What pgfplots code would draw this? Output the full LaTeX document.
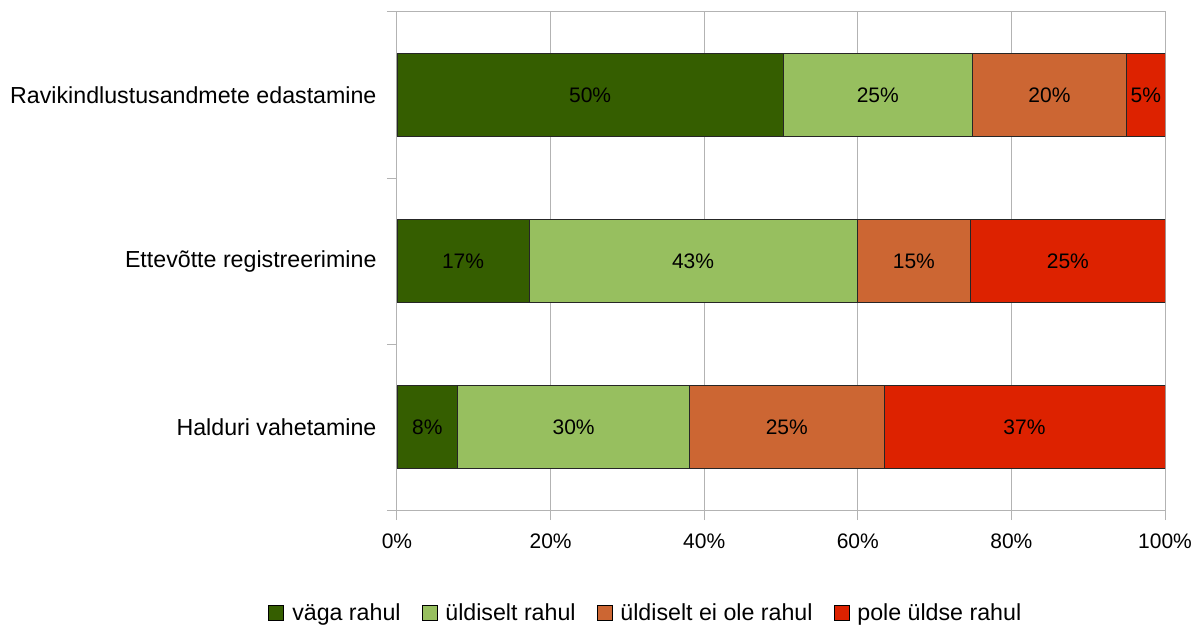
\documentclass[border=0pt]{standalone}
\usepackage{pgfplots}
\pgfplotsset{compat=1.18}
\usepackage{fontspec}
\setmainfont{Liberation Sans}
\definecolor{c1}{RGB}{53,94,0}
\definecolor{c2}{RGB}{151,191,95}
\definecolor{c3}{RGB}{204,102,51}
\definecolor{c4}{RGB}{221,34,0}
\definecolor{gridc}{RGB}{179,179,179}
\newcommand{\cf}{\fontsize{21}{25}\selectfont}
\newcommand{\lf}{\fontsize{23.2}{27}\selectfont}

\pgfplotstableread{
y v1 v2 v3 v4
3 50.3 24.6 20.1 5.0
2 17.2 42.7 14.8 25.3
1 7.9 30.2 25.3 36.6
}\datatab

\pgfplotstableread{
x y lbl
25.15 3 50
62.6 3 25
84.95 3 20
97.5 3 5
8.6 2 17
38.55 2 43
67.3 2 15
87.35 2 25
3.95 1 8
23.0 1 30
50.75 1 25
81.7 1 37
}\labtab

\begin{document}
\begin{tikzpicture}
\begin{axis}[
  scale only axis, width=768pt, height=498pt,
  xbar stacked, bar width=0.5,
  xmin=0, xmax=100, ymin=0.5, ymax=3.5,
  xtick={0,20,...,100},
  xticklabel={\pgfmathprintnumber{\tick}\%},
  /pgf/number format/assume math mode=true,
  xmajorgrids, major grid style={gridc, line width=1pt},
  axis line style={gridc, line width=1pt},
  tick align=outside, major tick length=10pt,
  tick style={gridc, line width=1pt},
  xtick pos=bottom, ytick pos=left,
  ytick={0.5,1.5,2.5,3.5}, yticklabels={},
  extra y ticks={1,2,3},
  extra y tick labels={Halduri vahetamine, Ettevõtte registreerimine, Ravikindlustusandmete edastamine},
  extra y tick style={major tick length=0pt, tick style={draw=none}, yticklabel style={xshift=-17pt, font=\lf}},
  tick label style={font=\cf, text=black},
  xticklabel style={yshift=-10pt},
  legend style={at={(0.324,-0.207)}, anchor=center, draw=none, font=\lf, legend columns=4,
    /tikz/every odd column/.append style={column sep=6pt},
    /tikz/every even column/.append style={column sep=19pt}},
  legend image code/.code={\draw[#1, draw=black, line width=0.8pt] (0pt,-7.5pt) rectangle (15pt,7.5pt);},
  every axis plot/.append style={draw=black!85, line width=0.8pt},
]
\addplot[fill=c1] table[x=v1, y=y] {\datatab};
\addplot[fill=c2] table[x=v2, y=y] {\datatab};
\addplot[fill=c3] table[x=v3, y=y] {\datatab};
\addplot[fill=c4] table[x=v4, y=y] {\datatab};
\legend{väga rahul, üldiselt rahul, üldiselt ei ole rahul, pole üldse rahul}
\end{axis}
\begin{axis}[
  scale only axis, width=768pt, height=498pt,
  xmin=0, xmax=100, ymin=0.5, ymax=3.5, hide axis,
]
\addplot[draw=none, mark=none, nodes near coords={\pgfmathprintnumber[assume math mode=true]{\pgfplotspointmeta}\%},
  nodes near coords align=center, point meta=explicit,
  every node near coord/.append style={font=\cf, text=black}]
  table[x=x, y=y, meta=lbl] {\labtab};
\end{axis}
\path (current axis.south west) ++(-397pt,-122pt);
\path (current axis.north east) ++(38pt,12pt);
\end{tikzpicture}
\end{document}
